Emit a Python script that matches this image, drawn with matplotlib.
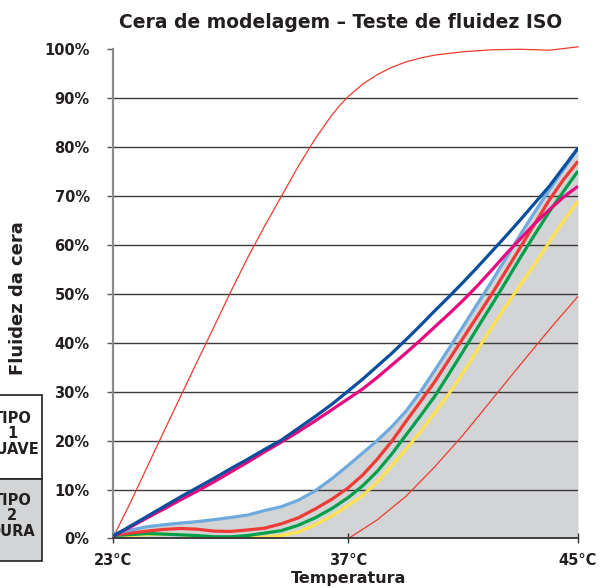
import numpy as np
import matplotlib
matplotlib.use('Agg')
import matplotlib.pyplot as plt
from matplotlib.patches import Rectangle

plt.rcParams['font.family'] = ['DejaVu Sans']

title = "Cera de modelagem – Teste de fluidez ISO"
xlabel = "Temperatura"
ylabel = "Fluidez da cera"
xticks = [23, 37, 45]
xticklabels = ["23°C", "37°C", "45°C"]
yticks = list(range(0, 101, 10))
yticklabels = [f"{v}%" for v in yticks]
box_labels = ["TIPO\n1\nSUAVE", "TIPO\n2\nDURA"]

# thin red - fast curve
temp_fast = [23, 24, 25, 26, 27, 28, 29, 30, 31, 32, 33, 34, 35, 36, 36.5, 37, 37.5,
             38, 38.5, 39, 39.5, 40, 41, 42, 43, 44, 45]
fast_red = [0.3, 7.2, 14.5, 21.8, 29.0, 36.2, 43.3, 50.5, 57.4, 63.8, 69.9, 76.0, 81.6,
            86.5, 88.6, 90.4, 92.9, 94.8, 96.3, 97.4, 98.2, 98.8, 99.5, 99.9, 100.0, 99.8, 100.5]

# thin red - slow curve
temp_slow = [37, 38, 39, 40, 41, 42, 43, 44, 45]
slow_red = [0.0, 3.8, 8.6, 14.6, 21.2, 28.4, 35.6, 42.7, 49.5]

# dark blue and magenta
temp_bm = [23, 24, 25, 26, 27, 28, 29, 30, 31, 32, 33, 34, 35, 36, 37,
           37.5, 38, 38.5, 39, 39.5, 40, 40.5, 41, 41.5, 42, 42.5, 43, 43.5, 44, 44.5, 45]
dark_blue = [0.5, 2.5, 4.5, 6.5, 8.5, 10.4, 12.3, 14.3, 16.2, 18.2, 20.1, 22.5, 24.9,
             27.4, 30.2, 32.6, 35.2, 37.8, 40.6, 43.5, 46.5, 49.4, 52.4, 55.5, 58.7,
             61.9, 65.2, 68.6, 72.0, 75.9, 79.8]
magenta = [0.5, 2.3, 4.2, 6.0, 7.9, 9.7, 11.6, 13.6, 15.6, 17.7, 19.7, 21.8, 24.0,
           26.3, 28.6, 30.6, 32.9, 35.4, 37.9, 40.5, 43.2, 45.9, 48.7, 51.7, 54.9,
           58.2, 61.3, 64.4, 67.2, 69.8, 72.0]

# light blue, red, green, yellow
temp_fine = [23, 24, 25, 26, 27, 28, 29, 30, 31, 32, 33, 34, 35, 36, 37,
             37.5, 38, 38.5, 39, 39.5, 40, 40.5, 41, 41.5, 42, 42.5, 43, 43.5, 44, 44.5, 45]
light_blue = [1.0, 1.7, 2.4, 2.8, 3.15, 3.45, 3.85, 4.3, 4.8, 5.7, 6.5, 7.8, 9.7, 12.2, 15.0,
              17.5, 20.0, 22.8, 26.0, 29.9, 34.3, 38.8, 43.4, 48.0, 52.6, 57.4, 62.2, 66.8,
              71.3, 75.5, 79.7]
red = [0.7, 1.1, 1.5, 1.85, 2.05, 1.9, 1.5, 1.45, 1.75, 2.1, 3.0, 4.2, 6.0, 8.0, 10.4,
       13.0, 16.2, 19.8, 23.9, 27.9, 32.0, 36.5, 41.0, 45.5, 50.0, 54.8, 59.6, 64.4,
       69.2, 73.4, 77.1]
green = [0.6, 0.8, 1.0, 0.9, 0.75, 0.6, 0.35, 0.35, 0.6, 1.1, 1.6, 2.7, 4.2, 6.1, 8.4,
         10.8, 13.7, 17.2, 21.1, 25.0, 29.0, 33.6, 38.3, 43.1, 47.8, 52.6, 57.5, 62.2,
         66.8, 71.0, 75.1]
yellow = [0.4, 0.6, 0.8, 0.9, 0.8, 0.4, 0.15, 0.1, 0.1, 0.3, 0.6, 1.3, 2.8, 4.6, 6.8,
          8.8, 11.5, 14.8, 18.2, 21.8, 25.6, 29.6, 33.9, 38.6, 43.2, 47.6, 51.9, 56.1,
          60.6, 64.9, 69.0]

C_FAST = '#EE3B30'
C_BLUE = '#0A4F9E'
C_MAG = '#E5097F'
C_LBLUE = '#6FAADF'
C_RED = '#EE3B36'
C_GREEN = '#00A04B'
C_YEL = '#FFE14F'
C_GRAY = '#D3D4D6'
C_TXT = '#231F20'

# piecewise-linear temperature scale (as in the original axis)
tick_frac = [0.0, 0.5061, 1.0]
def fwd(t):
    return np.interp(t, xticks, tick_frac)
def inv(u):
    return np.interp(u, tick_frac, xticks)

fig = plt.figure(figsize=(6.02, 5.88), dpi=100)
ax = fig.add_axes([0.1882, 0.0842, 0.7719, 0.832])
ax.set_xscale('function', functions=(fwd, inv))
ax.set_xlim(23, 45)
ax.set_ylim(0, 100)

ax.fill_between(temp_fine, light_blue, 0, color=C_GRAY, lw=0, zorder=1)
for v in yticks[1:-1]:
    ax.axhline(v, color='#3a3a3a', lw=1.0, zorder=2)

lw = 2.3
kw = dict(lw=lw, solid_capstyle='butt', solid_joinstyle='round')
ax.plot(temp_fast, fast_red, color=C_FAST, lw=0.9, zorder=3, clip_on=False,
        solid_joinstyle='round')
ax.plot(temp_slow, slow_red, color=C_FAST, lw=0.9, zorder=3, solid_joinstyle='round')
ax.plot(temp_fine, yellow, color=C_YEL, zorder=4, **kw)
ax.plot(temp_fine, green, color=C_GREEN, zorder=5, **kw)
ax.plot(temp_fine, red, color=C_RED, zorder=6, **kw)
ax.plot(temp_fine, light_blue, color=C_LBLUE, zorder=7, **kw)
ax.plot(temp_bm, magenta, color=C_MAG, zorder=8, **kw)
ax.plot(temp_bm, dark_blue, color=C_BLUE, zorder=9, **kw)

for s in ['top', 'right']:
    ax.spines[s].set_visible(False)
ax.spines['left'].set_color('#8a8a8a')
ax.spines['left'].set_linewidth(1.6)
ax.spines['bottom'].set_color('#333333')
ax.spines['bottom'].set_linewidth(1.3)
ax.spines['bottom'].set_zorder(10)

ax.set_yticks(yticks)
ax.set_yticklabels(yticklabels, fontweight='bold', fontsize=10.5, color=C_TXT)
ax.set_xticks(xticks)
ax.set_xticklabels(xticklabels, fontweight='bold', fontsize=10.5, color=C_TXT)
ax.xaxis.set_minor_locator(matplotlib.ticker.NullLocator())
ax.tick_params(axis='y', direction='out', length=4, width=1, color='#555555', pad=13)
ax.tick_params(axis='x', direction='inout', length=7, width=1, color='#333333', pad=7)

fig.text(341 / 602, 1 - 22 / 588, title, ha='center', va='center', fontsize=13.5,
         fontweight='bold', color=C_TXT)
fig.text(349 / 602, 1 - 578 / 588, xlabel, ha='center', va='center', fontsize=11.5,
         fontweight='bold', color=C_TXT)
fig.text(18 / 602, 1 - 298 / 588, ylabel, ha='center', va='center', rotation=90,
         fontsize=13, fontweight='bold', color=C_TXT)

# type boxes on the left (partly outside the canvas, as in the original)
bx0, bx1 = -0.05, 41.7 / 602
b_top, b_mid, b_bot = 1 - 395 / 588, 1 - 479 / 588, 1 - 561 / 588
fig.patches.append(Rectangle((bx0, b_mid), bx1 - bx0, b_top - b_mid, transform=fig.transFigure,
                             facecolor='white', edgecolor='#231F20', lw=1.2))
fig.patches.append(Rectangle((bx0, b_bot), bx1 - bx0, b_mid - b_bot, transform=fig.transFigure,
                             facecolor=C_GRAY, edgecolor='#231F20', lw=1.2))
fig.text(12 / 602, 1 - 434 / 588, box_labels[0], ha='center', va='center', fontsize=10.5,
         fontweight='bold', color=C_TXT, linespacing=1.05)
fig.text(12 / 602, 1 - 516 / 588, box_labels[1], ha='center', va='center', fontsize=10.5,
         fontweight='bold', color=C_TXT, linespacing=1.05)

fig.savefig('out.png', dpi=100)
